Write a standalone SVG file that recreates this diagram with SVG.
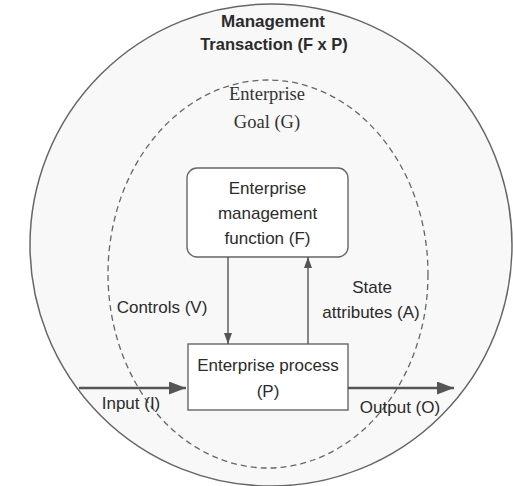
<svg xmlns="http://www.w3.org/2000/svg" width="513" height="486" viewBox="0 0 513 486">
<style>
.sans{font-family:"Liberation Sans",Arial,sans-serif;fill:#2b2b2b;}
.serif{font-family:"Liberation Serif","Times New Roman",serif;fill:#333;}
.box{fill:#fff;stroke:#666;stroke-width:1.4;}
.ln{stroke:#555;stroke-width:1.4;fill:none;}
.thick{stroke:#555;stroke-width:2.4;fill:none;}
</style>
<defs>
<marker id="big" markerUnits="userSpaceOnUse" markerWidth="18" markerHeight="14" refX="17" refY="6.5" orient="auto">
<path d="M0,0 L17,6.5 L0,13 Z" fill="#555"/>
</marker>
<marker id="small" markerUnits="userSpaceOnUse" markerWidth="12" markerHeight="9" refX="11" refY="4" orient="auto">
<path d="M0,0 L11,4 L0,8 Z" fill="#555"/>
</marker>
</defs>
<rect width="513" height="486" fill="#fff"/>
<g id="transaction">
<circle cx="271" cy="245" r="241" fill="#f8f8f8" stroke="#666" stroke-width="1.5"/>
<text class="sans" x="273" y="27" font-size="17" font-weight="bold" text-anchor="middle">Management</text>
<text class="sans" x="274" y="50" font-size="16.5" font-weight="bold" text-anchor="middle">Transaction (F x P)</text>
</g>
<g id="goal">
<ellipse cx="268" cy="274" rx="160" ry="194" fill="none" stroke="#666" stroke-width="1.3" stroke-dasharray="6,4"/>
<text class="serif" x="267" y="100" font-size="18.5" text-anchor="middle">Enterprise</text>
<text class="serif" x="267" y="128" font-size="18.5" text-anchor="middle">Goal (G)</text>
</g>
<g id="function">
<rect class="box" x="187" y="168" width="161" height="89" rx="10"/>
<text class="sans" x="267.5" y="194" font-size="17" text-anchor="middle">Enterprise</text>
<text class="sans" x="267.5" y="219" font-size="17" text-anchor="middle">management</text>
<text class="sans" x="267.5" y="244" font-size="17" text-anchor="middle">function (F)</text>
</g>
<g id="process">
<rect class="box" x="188" y="344" width="160" height="66"/>
<text class="sans" x="268" y="371" font-size="17" text-anchor="middle">Enterprise process</text>
<text class="sans" x="268" y="397" font-size="17" text-anchor="middle">(P)</text>
</g>
<g id="connectors">
<line class="ln" x1="228" y1="257" x2="228" y2="344" marker-end="url(#small)"/>
<line class="ln" x1="308" y1="344" x2="308" y2="257" marker-end="url(#small)"/>
<line class="thick" x1="79" y1="388" x2="186" y2="388" marker-end="url(#big)"/>
<line class="thick" x1="348" y1="388" x2="454" y2="388" marker-end="url(#big)"/>
</g>
<g id="labels">
<text class="sans" x="162" y="313" font-size="17" text-anchor="middle">Controls (V)</text>
<text class="sans" x="372" y="293" font-size="17" text-anchor="middle">State</text>
<text class="sans" x="371" y="318" font-size="17" text-anchor="middle">attributes (A)</text>
<text class="sans" x="131" y="409" font-size="17" text-anchor="middle">Input (I)</text>
<text class="sans" x="400" y="413" font-size="17" text-anchor="middle">Output (O)</text>
</g>
</svg>
